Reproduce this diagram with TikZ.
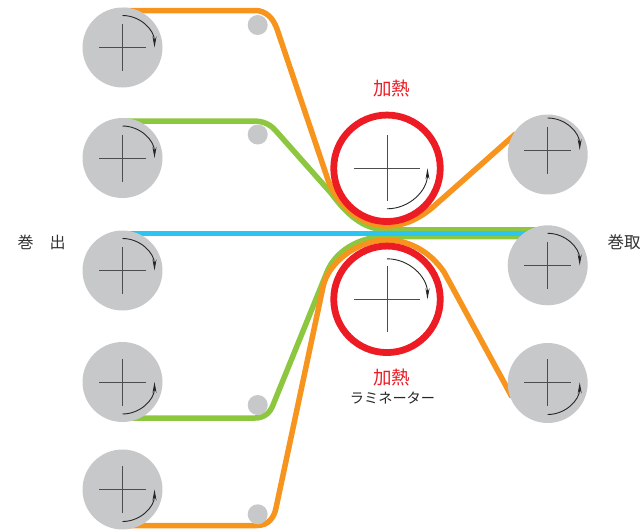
\documentclass[tikz,border=0pt]{standalone}
\usepackage{fontspec}
\newfontfamily\jpfont{Noto Sans CJK JP}
\usetikzlibrary{arrows.meta,backgrounds}
\definecolor{rollgray}{HTML}{C7C8CA}
\definecolor{heatred}{HTML}{ED1C24}
\definecolor{tapeorange}{HTML}{F7941D}
\definecolor{tapegreen}{HTML}{8DC63F}
\definecolor{tapeblue}{HTML}{2BC4F3}
\definecolor{crossgray}{HTML}{4D4D4F}
\tikzset{
  roll/.style={circle,fill=rollgray,minimum size=80pt,inner sep=0pt},
  guide/.style={circle,fill=rollgray,minimum size=20pt,inner sep=0pt},
  heat/.style={circle,draw=heatred,line width=6.8pt,fill=white,minimum size=106.5pt,inner sep=0pt},
  tape/.style={line width=5.5pt},
  spin/.style={line width=.9pt,black!85,-{Stealth[length=11pt,width=4pt]}},
  cross/.style={line width=.8pt,crossgray},
  lab/.style={font=\jpfont\fontsize{16.5}{18}\selectfont,text=black!80,inner sep=0pt},
  heatlab/.style={font=\jpfont\fontsize{18.5}{20}\selectfont,text=heatred,inner sep=0pt},
}
\begin{document}
\begin{tikzpicture}[x=1pt,y=-1pt]
\useasboundingbox (0,0) rectangle (642,531);
\foreach \name/\x/\y/\cy/\a/\b in {
  unA/122.5/47.5/47.5/90/0,unB/122.5/158/158/90/0,unC/122.5/270.5/270.5/90/0,
  unD/122.5/382/382/270/360,unE/122.5/489.5/489.5/270/360,
  rewA/547.7/154.5/150/90/0,rewB/547.7/265.3/265.3/90/0,rewC/547.7/383/382.5/270/360}{
  \node[roll] (\name) at (\x,\y) {};
  \draw[cross] (\x-23.5,\cy)--(\x+23.5,\cy) (\x,\cy-23.5)--(\x,\cy+23.5);
  \draw[spin] (\x,\cy) ++(\a:32pt) arc[start angle=\a,end angle=\b,radius=32pt];
}
\foreach \name/\x/\y in {guideA/257.7/25,guideB/257.7/134.5,guideC/257.7/405,guideD/257.7/514.3}{
  \node[guide] (\name) at (\x,\y) {};
}
\foreach \name/\y/\a/\b in {heatU/168.3/270/360,heatL/299.3/90/0}{
  \node[heat] (\name) at (387,\y) {};
  \draw[cross] (354,\y)--(420,\y) (387,\y-33)--(387,\y+33);
  \draw[spin] (387,\y) ++(\a:40.5pt) arc[start angle=\a,end angle=\b,radius=40.5pt];
}
\begin{scope}[on background layer]
\draw[tape,tapegreen] (unB |- 0,121)--(253,121)..controls (263,121) and (270,124) .. (276,131)--(331,193)..controls (345,212) and (362,229.8) .. (387,229.8)--(rewB |- 0,229.8);
\draw[tape,tapegreen] (unD |- 0,418)--(255,418)..controls (264,418) and (270,413) .. (273,405)--(327,272)..controls (335,252) and (358,236.5) .. (387,236.5)--(rewB |- 0,236.5);
\draw[tape,tapeorange] (unA |- 0,10.5)--(255,10.5)..controls (266,10.5) and (273,18) .. (277,29)--(327,177)..controls (335,203) and (360,226) .. (387,226)..controls (405,226) and (420,218) .. (433,207)--(516,133.5);
\draw[tape,tapeorange] (unE |- 0,525.5)--(257,525.5)..controls (268,525.5) and (274,518) .. (276,508)--(323,287)..controls (328,262) and (358,240) .. (387,240)..controls (407,240) and (429,250) .. (444,272)--(512,397);
\draw[tapeblue,line width=5.5pt] (unC |- 0,233.5)--(rewB |- 0,233.5);
\end{scope}
\node[heatlab] (heatlabU) at (391.5,88) {加熱};
\node[heatlab] (heatlabL) at (391.5,377) {加熱};
\node[lab,font=\jpfont\fontsize{14.2}{16}\selectfont,text=black!85] (lami) at (392.5,398.5) {ラミネーター};
\node[lab,font=\jpfont\fontsize{16}{18}\selectfont] (unwind) at (41.5,242) {巻\hspace{1em}出};
\node[lab] (rewind) at (624,242) {巻取};
\end{tikzpicture}
\end{document}
